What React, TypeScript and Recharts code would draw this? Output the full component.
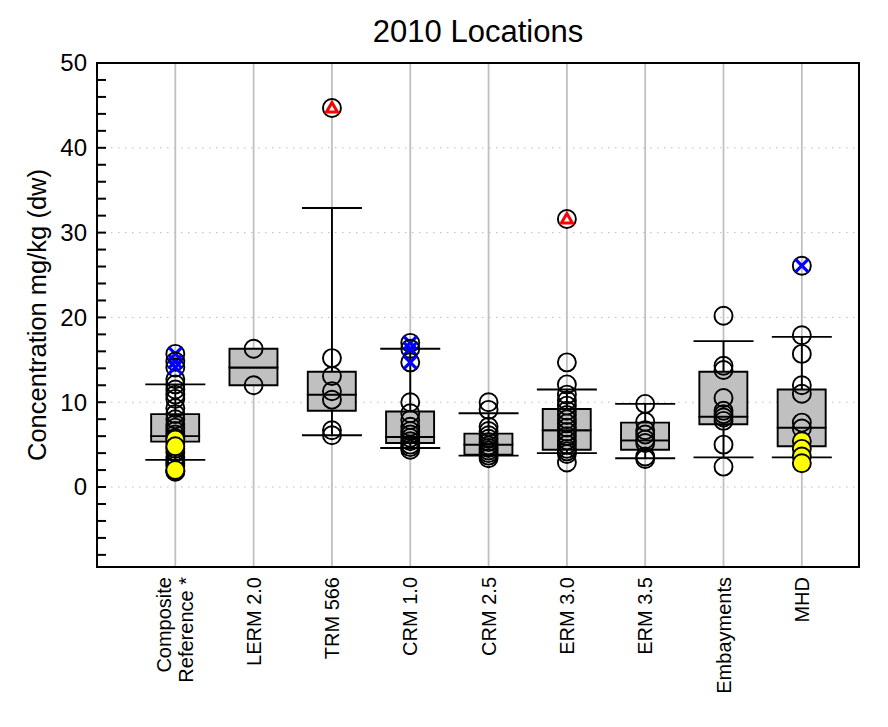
import React from 'react';
import {
  ComposedChart, Bar, Scatter, ErrorBar, XAxis, YAxis, CartesianGrid, ReferenceArea,
} from 'recharts';

const categories = ['Composite\nReference *', 'LERM 2.0', 'TRM 566', 'CRM 1.0', 'CRM 2.5', 'ERM 3.0', 'ERM 3.5', 'Embayments', 'MHD'];

// box statistics per location
const q1 = [5.35, 12.0, 9.0, 5.2, 3.8, 4.4, 4.4, 7.4, 4.8];
const median = [6.0, 14.1, 10.9, 5.9, 5.0, 6.7, 5.5, 8.3, 7.0];
const q3 = [8.6, 16.3, 13.6, 8.9, 6.3, 9.2, 7.6, 13.6, 11.5];
const whiskerLow = [3.2, null, 6.1, 4.6, 3.7, 4.0, 3.4, 3.5, 3.5];
const whiskerHigh = [12.1, null, 32.9, 16.3, 8.7, 11.5, 9.8, 17.2, 17.7];

// individual samples
const openCircles: number[][] = [
  [12.7, 12.1, 11.5, 10.9, 10.4, 9.3, 8.6, 8.0, 7.4, 7.0, 6.6, 6.2, 5.8, 5.2, 4.5, 4.1, 3.5, 3.1, 2.8, 2.5, 1.9, 1.8],
  [16.3, 12.0],
  [15.2, 13.1, 11.3, 10.3, 6.7, 6.1],
  [10.0, 8.7, 7.9, 7.1, 6.6, 6.2, 5.8, 5.4, 5.0, 4.7, 4.4],
  [10.0, 9.1, 7.1, 6.6, 6.1, 5.7, 5.3, 4.9, 4.6, 4.3, 4.0, 3.7, 3.4],
  [14.7, 12.1, 10.9, 10.2, 9.6, 9.0, 8.5, 8.0, 7.5, 7.0, 6.5, 6.0, 5.5, 5.0, 4.5, 4.2, 3.9, 2.9],
  [9.8, 7.7, 6.7, 6.2, 5.6, 5.2, 3.6, 3.3],
  [20.2, 14.3, 13.8, 10.5, 9.0, 8.6, 8.2, 7.8, 5.0, 2.4],
  [17.9, 15.7, 12.0, 11.0, 7.6, 6.9],
];
const yellowPoints: number[][] = [[5.6, 4.8, 2.0], [], [], [], [], [], [], [], [5.4, 4.5, 3.6, 2.8]];
const blueXPoints: number[][] = [[15.7, 14.8, 14.1], [], [], [17.0, 16.3, 14.7], [], [], [], [], [26.1]];
const redTrianglePoints: number[][] = [[], [], [44.7], [], [], [31.6], [], [], []];

const yTicks = [-8, -6, -4, -2, 0, 2, 4, 6, 8, 10, 12, 14, 16, 18, 20, 22, 24, 26, 28, 30, 32, 34, 36, 38, 40, 42, 44, 46, 48, 50];
const xTicks = categories.map((_, i) => i + 1);
const X_DOMAIN: [number, number] = [0, 9.73];
const Y_DOMAIN: [number, number] = [-9.43, 50];

const FONT = '"Liberation Sans", Arial, sans-serif';

const boxData = categories.map((_, i) => ({
  x: i + 1,
  base: q1[i],
  lower: median[i] - q1[i],
  upper: q3[i] - median[i],
}));

const whiskerData = categories
  .map((_, i) => ({ x: i + 1, y: median[i], lo: whiskerLow[i], hi: whiskerHigh[i] }))
  .filter((d) => d.lo !== null && d.hi !== null)
  .map((d) => ({ x: d.x, y: d.y, err: [d.y - (d.lo as number), (d.hi as number) - d.y] }));

const toPoints = (groups: number[][]) =>
  groups.flatMap((vals, i) => vals.map((v) => ({ x: i + 1, y: v })));

const R = 9;
const SW = 1.9;

const OpenCircle = (p: any) => (
  <circle cx={p.cx} cy={p.cy} r={R} fill="none" stroke="#000" strokeWidth={SW} />
);
const YellowCircle = (p: any) => (
  <circle cx={p.cx} cy={p.cy} r={R} fill="#ffff00" stroke="#000" strokeWidth={SW} />
);
const BlueX = (p: any) => (
  <g>
    <circle cx={p.cx} cy={p.cy} r={R} fill="none" stroke="#000" strokeWidth={SW} />
    <line x1={p.cx - 6.5} y1={p.cy - 6.5} x2={p.cx + 6.5} y2={p.cy + 6.5} stroke="#0000ff" strokeWidth={3.2} />
    <line x1={p.cx - 6.5} y1={p.cy + 6.5} x2={p.cx + 6.5} y2={p.cy - 6.5} stroke="#0000ff" strokeWidth={3.2} />
  </g>
);
const RedTriangle = (p: any) => (
  <g>
    <circle cx={p.cx} cy={p.cy} r={R} fill="#fff" stroke="#000" strokeWidth={SW} />
    <polygon
      points={`${p.cx},${p.cy - 5.5} ${p.cx + 5.5},${p.cy + 4} ${p.cx - 5.5},${p.cy + 4}`}
      fill="#fff" stroke="#ff0000" strokeWidth={3}
    />
  </g>
);
const NoShape = () => <g />;

const YTick = (props: any) => {
  const { x, y, payload } = props;
  const v = payload.value;
  return (
    <g>
      {v !== 50 && <line x1={x} y1={y} x2={x + 9} y2={y} stroke="#000" strokeWidth={2} />}
      {v % 10 === 0 && (
        <text x={x - 10} y={y} dy="0.35em" textAnchor="end" fontSize={24} fontFamily={FONT} fill="#000">
          {v}
        </text>
      )}
    </g>
  );
};

const XTick = (props: any) => {
  const { x, y, payload } = props;
  const lines = categories[payload.value - 1].split('\n');
  const lh = 22;
  return (
    <g transform={`translate(${x},${y + 10}) rotate(-90)`}>
      {lines.map((t, k) => (
        <text
          key={k}
          x={0}
          y={(k - (lines.length - 1) / 2) * lh}
          dy="0.35em"
          textAnchor="end"
          fontSize={20}
          fontFamily={FONT}
          fill="#000"
        >
          {t}
        </text>
      ))}
    </g>
  );
};

const YLabel = (props: any) => {
  const { viewBox } = props;
  const cx = viewBox.x + 37;
  const cy = viewBox.y + viewBox.height / 2;
  return (
    <text x={cx} y={cy} transform={`rotate(-90, ${cx}, ${cy})`} textAnchor="middle" dy="0.35em"
      fontSize={25.5} fontFamily={FONT} fill="#000">
      Concentration mg/kg (dw)
    </text>
  );
};

export default function App() {
  return (
    <div style={{ position: 'absolute', left: 0, top: 0, width: 888, height: 727, background: '#fff' }}>
      <div style={{
        position: 'absolute', left: 328, width: 300, top: 14, textAlign: 'center',
        fontFamily: FONT, fontSize: 31, whiteSpace: 'nowrap', lineHeight: '36px',
      }}>
        2010 Locations
      </div>
      <ComposedChart width={888} height={727} data={boxData} margin={{ top: 63, right: 29, bottom: 0, left: 0 }}>
        <CartesianGrid horizontal={false} verticalValues={xTicks} stroke="#c0c0c0" strokeWidth={1.8} />
        <CartesianGrid vertical={false} horizontalValues={[0, 10, 20, 30, 40]} stroke="#bdbdbd" strokeDasharray="1.5 5.5" />
        <XAxis
          dataKey="x" type="number" domain={X_DOMAIN} ticks={xTicks} allowDataOverflow
          height={160} tickSize={0} tickMargin={0} axisLine={false} tickLine={false} tick={<XTick />}
        />
        <YAxis
          type="number" domain={Y_DOMAIN} ticks={yTicks} allowDataOverflow interval={0}
          width={97} tickSize={0} tickMargin={0} axisLine={false} tickLine={false} tick={<YTick />}
          label={<YLabel />}
        />
        <Scatter data={whiskerData} dataKey="y" shape={<NoShape />} isAnimationActive={false} zIndex={250}>
          <ErrorBar dataKey="err" direction="y" width={30} stroke="#000" strokeWidth={1.9} isAnimationActive={false} zIndex={250} />
        </Scatter>
        <Bar dataKey="base" stackId="box" fill="transparent" barSize={48} isAnimationActive={false} />
        <Bar dataKey="lower" stackId="box" fill="#c0c0c0" stroke="#000" strokeWidth={1.9} barSize={48} isAnimationActive={false} />
        <Bar dataKey="upper" stackId="box" fill="#c0c0c0" stroke="#000" strokeWidth={1.9} barSize={48} isAnimationActive={false} />
        <Scatter data={toPoints(openCircles)} dataKey="y" shape={<OpenCircle />} isAnimationActive={false} />
        <Scatter data={toPoints(yellowPoints)} dataKey="y" shape={<YellowCircle />} isAnimationActive={false} />
        <Scatter data={toPoints(blueXPoints)} dataKey="y" shape={<BlueX />} isAnimationActive={false} />
        <Scatter data={toPoints(redTrianglePoints)} dataKey="y" shape={<RedTriangle />} isAnimationActive={false} />
        <ReferenceArea x1={X_DOMAIN[0]} x2={X_DOMAIN[1]} y1={Y_DOMAIN[0]} y2={Y_DOMAIN[1]} fill="none" stroke="#000" strokeWidth={2} />
      </ComposedChart>
    </div>
  );
}
